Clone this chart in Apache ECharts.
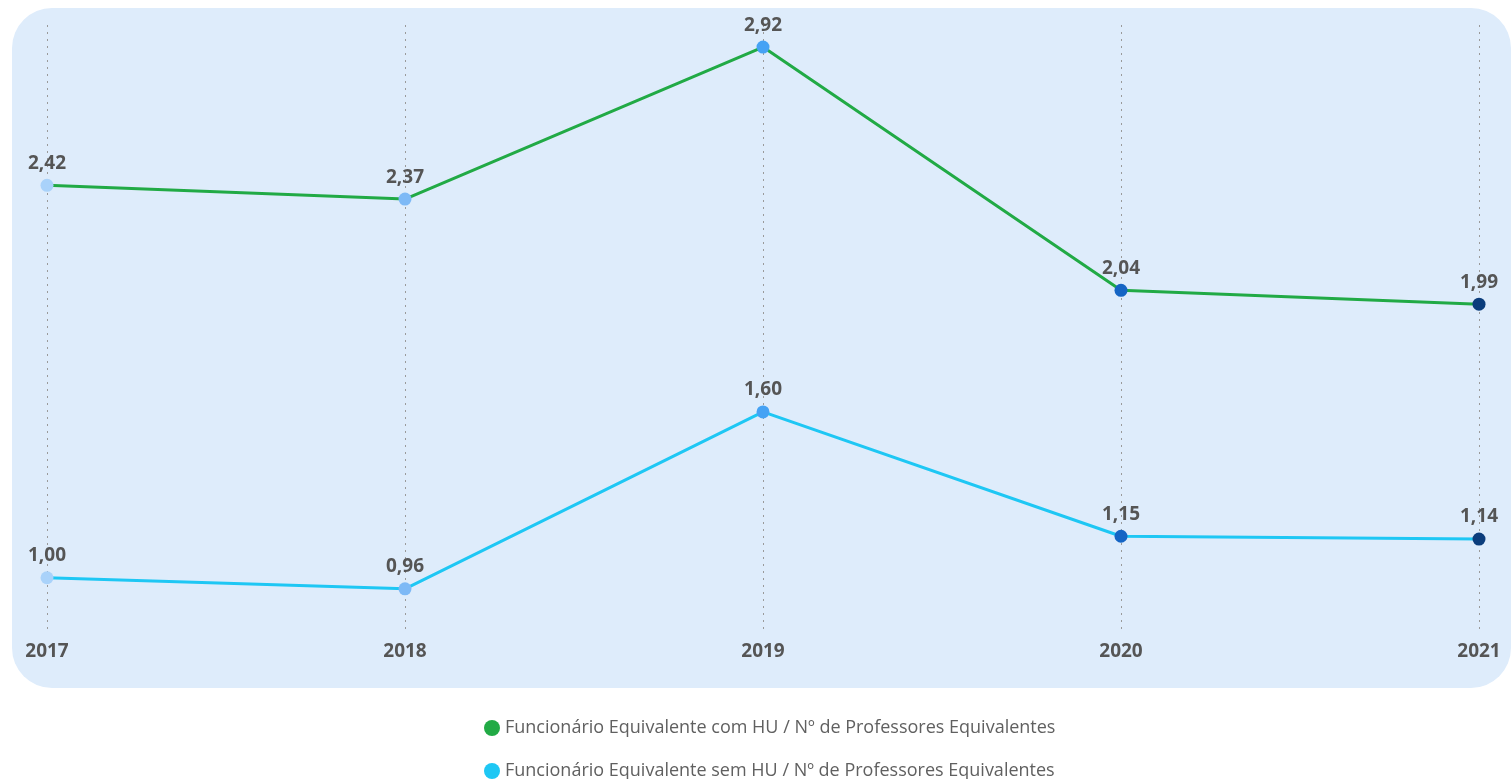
<!DOCTYPE html>
<html>
<head>
<meta charset="utf-8">
<script src="https://cdn.jsdelivr.net/npm/echarts@6/dist/echarts.min.js"></script>
<style>
  html, body { margin: 0; padding: 0; background: #fff; }
  #chart { width: 1511px; height: 779px; }
</style>
</head>
<body>
<div id="chart"></div>
<script>
// dados
const years = ["2017", "2018", "2019", "2020", "2021"];
const comHU = [2.42, 2.37, 2.92, 2.04, 1.99];
const semHU = [1.00, 0.96, 1.60, 1.15, 1.14];
const pointColors = ["#a9d2fa", "#7db9f6", "#45a2f4", "#1565c4", "#0b3d7c"];
const seriesNames = [
  "Funcionário Equivalente com HU / Nº de Professores Equivalentes",
  "Funcionário Equivalente sem HU / Nº de Professores Equivalentes"
];

const chart = echarts.init(document.getElementById("chart"));

function pts(values) {
  return values.map((v, i) => ({ value: v, itemStyle: { color: pointColors[i] } }));
}

const labelStyle = {
  show: true,
  position: "top",
  distance: 6,
  color: "#555",
  fontWeight: "bold",
  fontSize: 19,
  fontFamily: "Open Sans",
  formatter: (p) => p.value.toFixed(2).replace(".", ",")
};

// uma legenda por linha
function legendRow(name, top) {
  return {
    orient: "vertical",
    left: 479,
    top: top,
    icon: "circle",
    itemWidth: 16,
    itemHeight: 16,
    textStyle: { color: "#606060", fontSize: 18, fontFamily: "Open Sans" },
    data: [name]
  };
}

chart.setOption({
  animation: false,
  textStyle: { fontFamily: "Open Sans" },
  graphic: [
    {
      type: "rect",
      z: -10,
      shape: { x: 12, y: 8, width: 1499, height: 680, r: 40 },
      style: { fill: "#deecfb" }
    }
  ],
  grid: { left: 47, right: 32, top: 25, bottom: 146 },
  legend: [legendRow(seriesNames[0], 714), legendRow(seriesNames[1], 757)],
  xAxis: {
    type: "category",
    data: years,
    boundaryGap: false,
    axisLine: { show: false },
    axisTick: { show: false },
    axisLabel: { color: "#555", fontWeight: "bold", fontSize: 19, margin: 9 },
    splitLine: { show: true, lineStyle: { type: [2, 5], color: "#9a9a9a", width: 1 } }
  },
  yAxis: {
    type: "value",
    min: 0.8,
    max: 3.0,
    show: false,
    splitLine: { show: false }
  },
  series: [
    {
      name: seriesNames[0],
      type: "line",
      data: pts(comHU),
      symbol: "circle",
      symbolSize: 13,
      itemStyle: { color: "#21aa45" },
      lineStyle: { color: "#21aa45", width: 3 },
      label: labelStyle
    },
    {
      name: seriesNames[1],
      type: "line",
      data: pts(semHU),
      symbol: "circle",
      symbolSize: 13,
      itemStyle: { color: "#1ec7f4" },
      lineStyle: { color: "#1ec7f4", width: 3 },
      label: labelStyle
    }
  ]
});
</script>
</body>
</html>
